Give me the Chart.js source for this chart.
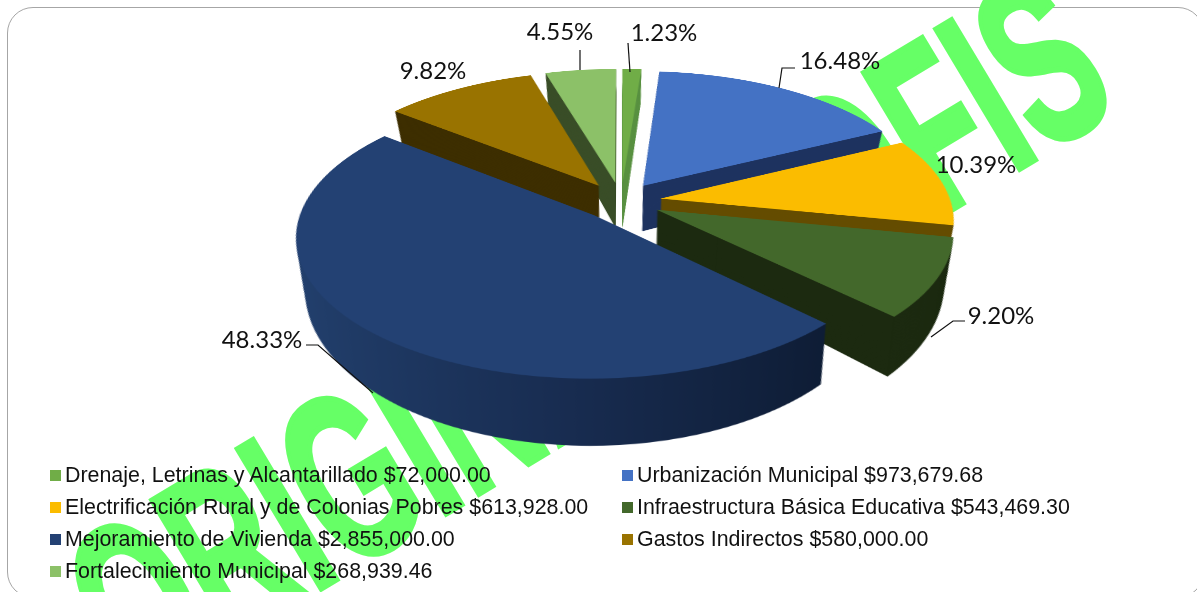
<!DOCTYPE html>
<html>
<head>
<meta charset="utf-8">
<script src="https://cdn.jsdelivr.net/npm/chart.js@4"></script>
<style>
  html, body { margin: 0; padding: 0; background: #fff; }
  #page { position: relative; width: 1197px; height: 592px; overflow: hidden; background: #fff; }
  #frame { position: absolute; left: 7px; top: 7px; height: 591px; box-sizing: border-box;
           border: 1.5px solid #a6a6a6; border-radius: 26px; width: 1197px; }
  /* watermark sits behind the pie */
  #mark { position: absolute; left: 0; top: 0; white-space: pre; color: #66ff66; -webkit-text-stroke: 6px #66ff66;
          font: bold 236px "Liberation Sans"; line-height: 1; word-spacing: 34px; transform-origin: 0 0; }
  #pie { position: absolute !important; left: 121px; top: -299px;
         transform-origin: 500px 500px; transform: perspective(1775px) rotateX(62.2deg); }
  #leaders { position: absolute; left: 0; top: 0; }
  .pct { position: absolute; font: 24px Lato; color: #111; transform: translate(-50%, -50%); white-space: nowrap; }
  #legend { position: absolute; left: 50px; top: 459px; display: grid; grid-template-columns: 572px 560px; grid-auto-rows: 32px;
            font: 21.4px "Liberation Sans"; color: #111; }
  #legend div { display: flex; align-items: center; white-space: nowrap; height: 32px; }
  #legend i { width: 11px; height: 11px; margin-right: 4px; flex: none; }
</style>
</head>
<body>
<div id="page">
  <div id="frame"></div>
  <div id="mark"></div>
  <canvas id="pie" width="1000" height="1000"></canvas>
  <svg id="leaders" width="1197" height="592"></svg>
  <div id="legend"></div>
</div>
<script>
const categories = [
  "Drenaje, Letrinas y Alcantarillado", "Urbanización Municipal",
  "Electrificación Rural y de Colonias Pobres", "Infraestructura Básica Educativa",
  "Mejoramiento de Vivienda", "Gastos Indirectos", "Fortalecimiento Municipal"
];
const amounts = [72000.00, 973679.68, 613928.00, 543469.30, 2855000.00, 580000.00, 268939.46];
const percents = ["1.23%", "16.48%", "10.39%", "9.20%", "48.33%", "9.82%", "4.55%"];

const topColors = ["#70ad47", "#4472c4", "#fbbc00", "#43682b", "#234173", "#997300", "#8cc168"];
const wallColors = ["#5a9040", "#1e3360", "#654d00", "#1c2a10", null, "#3d2e00", "#3a4e28"];

// painter order, back of the pie first
const drawOrder = [0, 6, 5, 1, 2, 3, 4];
const explode = 40;
const depth = 96;
const wallNarrow = 0.0008; // lower layers get narrower, as seen from above

// label centres and leader lines
const labelPos = [[664, 31], [840, 59], [976, 163], [1001, 314], [262, 338], [433, 69], [560, 30]];
const leaders = [
  "628,43 630,72", "795,68 782,68 779,88", "", "965,321 953,321 931,337",
  "306,345 318,345 373,393", "", "580,50 580,70"
];

const mark = document.getElementById("mark");
mark.textContent = "ORIGINAL COFIS";
mark.style.transform = "translate(32px, 529px) rotate(-31deg) scaleX(0.585)";

const svg = document.getElementById("leaders");
leaders.forEach(pts => {
  if (!pts) return;
  const line = document.createElementNS("http://www.w3.org/2000/svg", "polyline");
  line.setAttribute("points", pts);
  line.setAttribute("fill", "none");
  line.setAttribute("stroke", "#111");
  line.setAttribute("stroke-width", "1.2");
  svg.appendChild(line);
});

const page = document.getElementById("page");
percents.forEach((p, i) => {
  const d = document.createElement("div");
  d.className = "pct";
  d.textContent = p;
  d.style.left = labelPos[i][0] + "px";
  d.style.top = labelPos[i][1] + "px";
  page.appendChild(d);
});

const legend = document.getElementById("legend");
categories.forEach((c, i) => {
  const money = "$" + amounts[i].toLocaleString("en-US", { minimumFractionDigits: 2 });
  legend.innerHTML += `<div><i style="background:${topColors[i]}"></i>${c} ${money}</div>`;
});

// draws the slices itself so they can be pushed out and extruded
const pie3d = {
  id: "pie3d",
  beforeDatasetDraw(chart, args) {
    const ctx = chart.ctx;
    const arcs = args.meta.data;
    const blueWall = ctx.createLinearGradient(200, 0, 720, 0);
    blueWall.addColorStop(0, "#23416f");
    blueWall.addColorStop(0.55, "#182c50");
    blueWall.addColorStop(1, "#0e1c34");

    drawOrder.forEach(i => {
      const arc = arcs[i];
      const mid = (arc.startAngle + arc.endAngle) / 2;
      const keep = arc.options;
      const paint = color => {
        arc.options = { backgroundColor: color, borderColor: color, borderWidth: 0, offset: 0, spacing: 0, circular: true };
        arc.draw(ctx);
      };
      for (let d = depth; d >= 0; d--) {
        ctx.save();
        ctx.translate(arc.x, arc.y);
        ctx.scale(1 - d * wallNarrow, 1);
        ctx.translate(-arc.x, -arc.y);
        ctx.translate(Math.cos(mid) * explode, Math.sin(mid) * explode + d);
        paint(d === 0 ? topColors[i] : (wallColors[i] || blueWall));
        ctx.restore();
      }
      arc.options = keep;
    });
    return false;
  }
};

new Chart(document.getElementById("pie"), {
  type: "pie",
  data: {
    labels: categories,
    datasets: [{ data: amounts, backgroundColor: topColors, borderWidth: 0 }]
  },
  options: {
    responsive: false,
    animation: false,
    devicePixelRatio: 2,
    radius: 290,
    layout: { padding: 0 },
    plugins: { legend: { display: false }, tooltip: { enabled: false } }
  },
  plugins: [pie3d]
});
</script>
</body>
</html>
